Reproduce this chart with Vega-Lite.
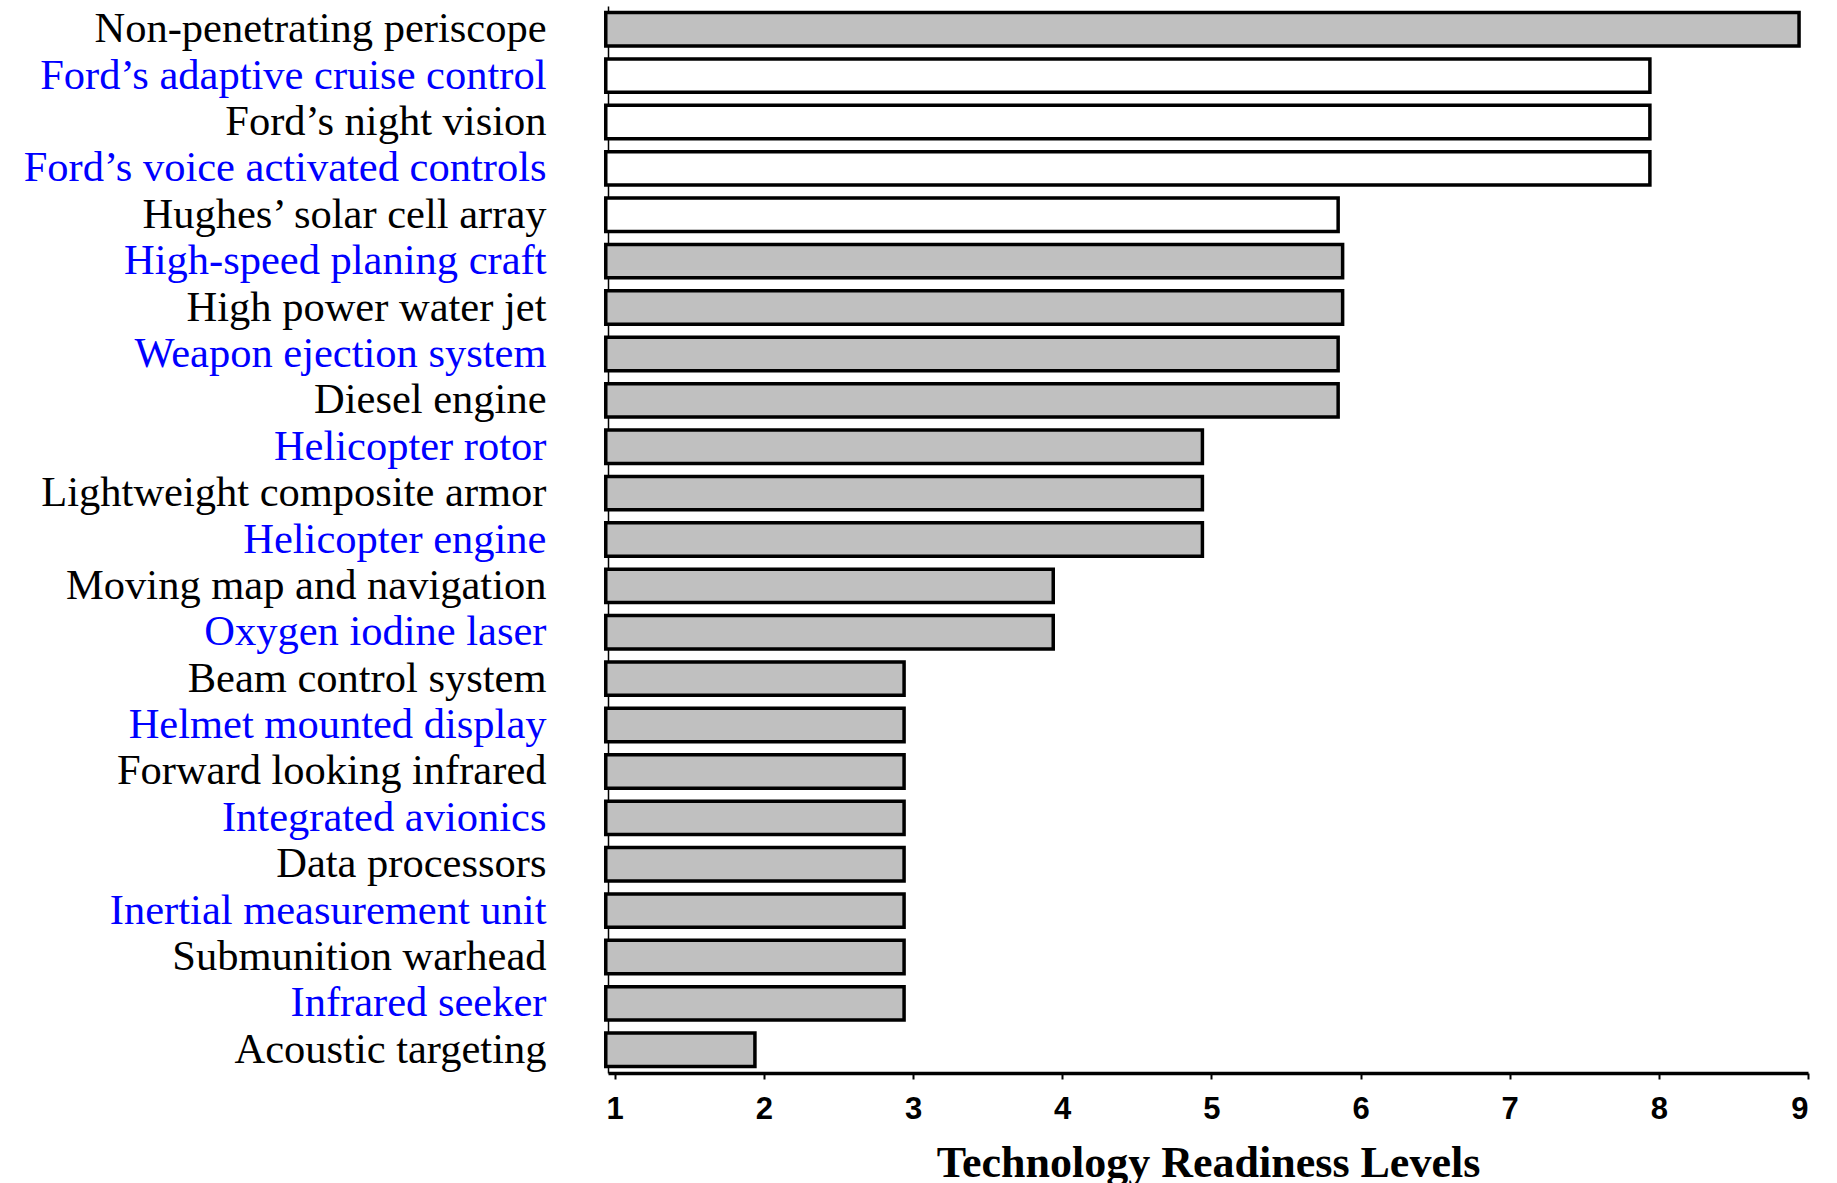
{
  "$schema": "https://vega.github.io/schema/vega-lite/v6.json",
  "autosize": {"type": "none"},
  "width": 1200,
  "height": 1067,
  "padding": {"left": 608, "top": 6, "right": 29, "bottom": 110},
  "background": "white",
  "config": {"view": {"stroke": null}},
  "data": {
    "values": [
      {"tech": "Non-penetrating periscope", "trl": 8.94, "source": "military"},
      {"tech": "Ford’s adaptive cruise control", "trl": 7.94, "source": "commercial"},
      {"tech": "Ford’s night vision", "trl": 7.94, "source": "commercial"},
      {"tech": "Ford’s voice activated controls", "trl": 7.94, "source": "commercial"},
      {"tech": "Hughes’ solar cell array", "trl": 5.85, "source": "commercial"},
      {"tech": "High-speed planing craft", "trl": 5.88, "source": "military"},
      {"tech": "High power water jet", "trl": 5.88, "source": "military"},
      {"tech": "Weapon ejection system", "trl": 5.85, "source": "military"},
      {"tech": "Diesel engine", "trl": 5.85, "source": "military"},
      {"tech": "Helicopter rotor", "trl": 4.94, "source": "military"},
      {"tech": "Lightweight composite armor", "trl": 4.94, "source": "military"},
      {"tech": "Helicopter engine", "trl": 4.94, "source": "military"},
      {"tech": "Moving map and navigation", "trl": 3.94, "source": "military"},
      {"tech": "Oxygen iodine laser", "trl": 3.94, "source": "military"},
      {"tech": "Beam control system", "trl": 2.94, "source": "military"},
      {"tech": "Helmet mounted display", "trl": 2.94, "source": "military"},
      {"tech": "Forward looking infrared", "trl": 2.94, "source": "military"},
      {"tech": "Integrated avionics", "trl": 2.94, "source": "military"},
      {"tech": "Data processors", "trl": 2.94, "source": "military"},
      {"tech": "Inertial measurement unit", "trl": 2.94, "source": "military"},
      {"tech": "Submunition warhead", "trl": 2.94, "source": "military"},
      {"tech": "Infrared seeker", "trl": 2.94, "source": "military"},
      {"tech": "Acoustic targeting", "trl": 1.94, "source": "military"}
    ]
  },
  "mark": {"type": "bar", "stroke": "black", "strokeWidth": 3.5},
  "encoding": {
    "y": {
      "field": "tech",
      "type": "nominal",
      "sort": null,
      "scale": {"paddingInner": 0.28, "paddingOuter": 0.14},
      "axis": {
        "title": null,
        "ticks": false,
        "domain": true,
        "domainColor": "black",
        "domainWidth": 1.5,
        "labelPadding": 62,
        "labelFont": "Liberation Serif",
        "labelFontSize": 42.5,
        "labelLimit": 0,
        "labelColor": {"expr": "indexof(['Ford’s adaptive cruise control','Ford’s voice activated controls','High-speed planing craft','Weapon ejection system','Helicopter rotor','Helicopter engine','Oxygen iodine laser','Helmet mounted display','Integrated avionics','Inertial measurement unit','Infrared seeker'], datum.value) >= 0 ? '#0000ff' : 'black'"}
      }
    },
    "x": {
      "field": "trl",
      "type": "quantitative",
      "scale": {"domain": [0.955, 9], "zero": false, "nice": false},
      "axis": {
        "title": "Technology Readiness Levels",
        "titleFont": "Liberation Serif",
        "titleFontSize": 44,
        "titleFontWeight": "bold",
        "titleColor": "black",
        "titlePadding": 17,
        "values": [1, 2, 3, 4, 5, 6, 7, 8, 9],
        "grid": false,
        "domainColor": "black",
        "domainWidth": 3.5,
        "tickColor": "black",
        "tickWidth": 2,
        "tickSize": 6,
        "labelPadding": 15,
        "labelFont": "Liberation Sans",
        "labelFontSize": 31,
        "labelFontWeight": "bold",
        "labelColor": "black"
      }
    },
    "x2": {"datum": 0.94},
    "fill": {
      "field": "source",
      "type": "nominal",
      "scale": {"domain": ["military", "commercial"], "range": ["#c0c0c0", "#ffffff"]},
      "legend": null
    }
  }
}
